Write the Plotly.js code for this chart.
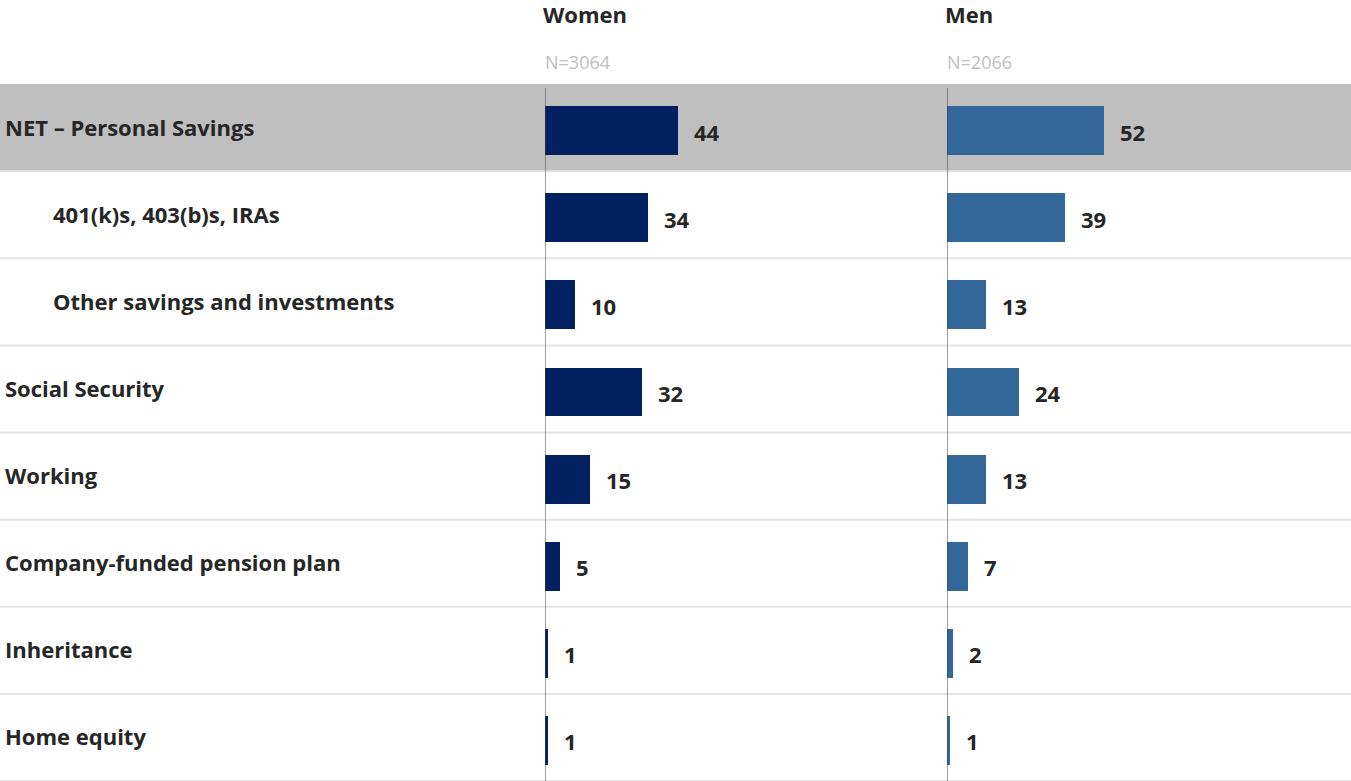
<!DOCTYPE html>
<html>
<head>
<meta charset="utf-8">
<script src="https://cdn.plot.ly/plotly-3.0.1.min.js"></script>
<style>html,body{margin:0;padding:0;background:#fff;}#chart{width:1351px;height:781px;}</style>
</head>
<body>
<div id="chart"></div>
<script>
const categories = ["NET – Personal Savings", "401(k)s, 403(b)s, IRAs", "Other savings and investments", "Social Security", "Working", "Company-funded pension plan", "Inheritance", "Home equity"];
const indented = [false, true, true, false, false, false, false, false];
const womenValues = [44, 34, 10, 32, 15, 5, 1, 1];
const menValues = [52, 39, 13, 24, 13, 7, 2, 1];
const groupNames = ["Women", "Men"];
const sampleSizes = ["N=3064", "N=2066"];

const W = 1351, H = 781, T = 84;
const plotH = H - T;
const FONT = "'Open Sans', Lato, sans-serif";
const textColor = "#262626";
const womenColor = "#002060";
const menColor = "#336699";

const xW0 = 545, xM0 = 947;
const pxPerUnit = 3.02;

const idx = categories.map((c, i) => i);

const barCommon = {
  type: "bar", orientation: "h", width: 0.56, offset: -0.245,
  hoverinfo: "skip", showlegend: false
};
const traces = [
  Object.assign({}, barCommon, {x: womenValues, y: idx, xaxis: "x", yaxis: "y", marker: {color: womenColor}}),
  Object.assign({}, barCommon, {x: menValues, y: idx, xaxis: "x2", yaxis: "y", marker: {color: menColor}})
];

const shapes = [];
shapes.push({type: "rect", xref: "paper", yref: "y", x0: 0, x1: 1, y0: -0.5, y1: 0.5, fillcolor: "#bfbfbf", line: {width: 0}, layer: "below"});
for (let i = 0; i < categories.length; i++) {
  shapes.push({type: "line", xref: "paper", yref: "y", x0: 0, x1: 1, y0: i + 0.5, y1: i + 0.5, line: {color: "#e3e3e3", width: 2}, layer: "below"});
}
["x", "x2"].forEach(xr => {
  shapes.push({type: "line", xref: xr, yref: "paper", x0: 0, x1: 0, y0: 0, y1: (plotH - 4) / plotH, line: {color: "#3a3f4a", width: 1}, layer: "above"});
});

const annotations = [];
categories.forEach((c, i) => {
  annotations.push({xref: "paper", yref: "y", x: 0, y: i, xanchor: "left", yanchor: "middle", xshift: indented[i] ? 51 : 3, yshift: 1,
    text: "<b>" + c + "</b>", showarrow: false, font: {family: FONT, size: 22, color: textColor}});
});
[[womenValues, "x"], [menValues, "x2"]].forEach(([vals, xr]) => {
  vals.forEach((v, i) => {
    annotations.push({xref: xr, yref: "y", x: v, y: i, xanchor: "left", yanchor: "middle", xshift: 14, yshift: -4,
      text: "<b>" + v + "</b>", showarrow: false, font: {family: FONT, size: 22, color: textColor}});
  });
});
[xW0, xM0].forEach((px, k) => {
  annotations.push({xref: "paper", yref: "paper", x: (px - 4) / W, y: 1 + (T - 14) / plotH, xanchor: "left", yanchor: "middle",
    text: "<b>" + groupNames[k] + "</b>", showarrow: false, font: {family: FONT, size: 22, color: textColor}});
  annotations.push({xref: "paper", yref: "paper", x: (px - 2) / W, y: 1 + (T - 62) / plotH, xanchor: "left", yanchor: "middle",
    text: sampleSizes[k], showarrow: false, font: {family: FONT, size: 18, color: "#c0c0c0"}});
});

const wWidth = (xM0 - xW0) / pxPerUnit;
const mWidth = (W - xM0) / pxPerUnit;

const layout = {
  width: W, height: H,
  margin: {l: 0, r: 0, t: T, b: 0, pad: 0},
  paper_bgcolor: "#fff", plot_bgcolor: "rgba(0,0,0,0)",
  xaxis: {domain: [xW0 / W, xM0 / W], range: [0, wWidth], visible: false, fixedrange: true},
  xaxis2: {domain: [xM0 / W, 1], range: [0, mWidth], visible: false, fixedrange: true},
  yaxis: {range: [categories.length - 0.5, -0.5], visible: false, fixedrange: true},
  bargap: 0,
  shapes: shapes,
  annotations: annotations,
  font: {family: FONT}
};

Plotly.newPlot("chart", traces, layout, {displayModeBar: false, staticPlot: true});
</script>
</body>
</html>
